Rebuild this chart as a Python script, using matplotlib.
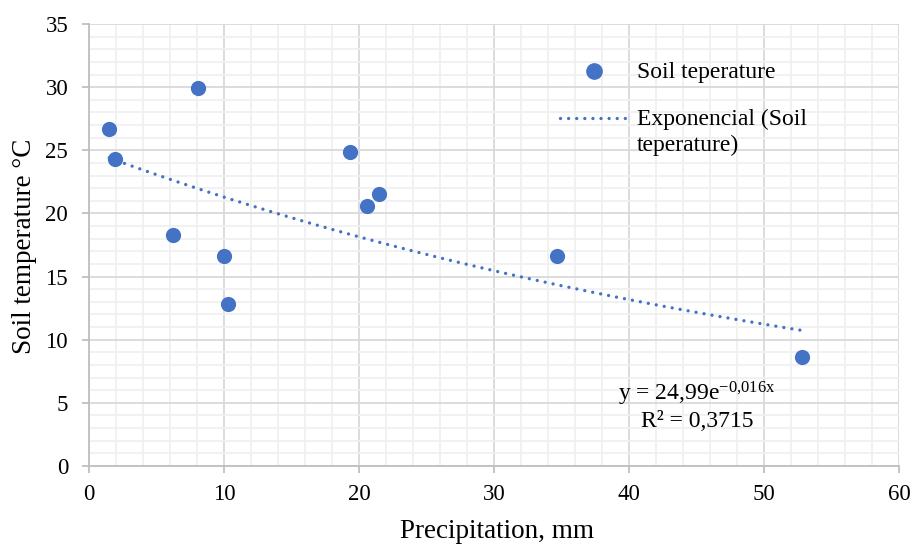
import numpy as np
import matplotlib
matplotlib.use("Agg")
import matplotlib.pyplot as plt
from matplotlib.ticker import MultipleLocator
from matplotlib.lines import Line2D

precip = [1.5, 1.9, 8.1, 6.2, 10.0, 10.3, 19.3, 20.6, 21.5, 34.7, 52.8]
soil_temp = [26.7, 24.3, 29.9, 18.3, 16.6, 12.8, 24.9, 20.6, 21.5, 16.6, 8.6]
trend_a = 24.99
trend_b = -0.016
r2_text = "0,3715"
series_label = "Soil teperature"
trend_label = ["Exponencial (Soil", "teperature)"]

plt.rcParams['font.family'] = ['Liberation Serif', 'DejaVu Serif']
plt.rcParams['mathtext.fontset'] = 'custom'
plt.rcParams['mathtext.rm'] = 'Liberation Serif'
plt.rcParams['mathtext.it'] = 'Liberation Serif'

W, H = 914, 545
fig = plt.figure(figsize=(W/100, H/100), dpi=100)
ax = fig.add_axes([89/W, 1-466/H, (899-89)/W, (466-24)/H])

def fx(px):
    return px / W

def fy(py):
    return 1 - py / H

blue = '#4472C4'
dot_style = dict(lw=2.4, linestyle=(0, (0.01, 2.42)), dash_capstyle='round')
ax.scatter(precip, soil_temp, s=120, color=blue, zorder=3, linewidths=0)
xs = np.linspace(min(precip), max(precip), 200)
ax.plot(xs, trend_a*np.exp(trend_b*xs), color=blue, zorder=2, **dot_style)

ax.set_xlim(0, 60)
ax.set_ylim(0, 35)
ax.xaxis.set_major_locator(MultipleLocator(10))
ax.xaxis.set_minor_locator(MultipleLocator(2))
ax.yaxis.set_major_locator(MultipleLocator(5))
ax.yaxis.set_minor_locator(MultipleLocator(1))
ax.grid(which='major', color='#d9d9d9', lw=1.3, zorder=0)
ax.grid(which='minor', color='#f0f0f0', lw=1.3, zorder=0)
ax.set_axisbelow(True)
for s in ['top', 'right']:
    ax.spines[s].set_visible(False)
for s in ['left', 'bottom']:
    ax.spines[s].set_color('#bfbfbf')
    ax.spines[s].set_linewidth(1.3)
ax.tick_params(which='major', length=5, width=1.3, color='#bfbfbf', labelsize=16.5)
ax.tick_params(axis='y', which='major', pad=10)
ax.tick_params(axis='x', which='major', pad=8)
ax.tick_params(which='minor', length=0)
ax.set_xlabel('Precipitation, mm', fontsize=19.5)
ax.set_ylabel('Soil temperature °C', fontsize=19.5)
ax.xaxis.set_label_coords(0.504, -0.121)
ax.yaxis.set_label_coords(-0.064, 0.497)

# legend (manual, frameless)
fig.add_artist(Line2D([fx(594)], [fy(71)], marker='o', color=blue, markersize=11,
                      linestyle='none', transform=fig.transFigure))
fig.add_artist(Line2D([fx(560), fx(628)], [fy(118), fy(118)], color=blue,
                      transform=fig.transFigure, **dot_style))
fig.text(fx(637), fy(78), series_label, fontsize=17, va='baseline', ha='left')
fig.text(fx(637), fy(125), trend_label[0], fontsize=17, va='baseline', ha='left')
fig.text(fx(637), fy(151), trend_label[1], fontsize=17, va='baseline', ha='left')

fig.text(fx(697), fy(400), r"y = 24,99e$^{-0{,}016x}$", fontsize=17, ha='center', va='baseline')
fig.text(fx(697), fy(427), "R² = " + r2_text, fontsize=17, ha='center', va='baseline')

fig.savefig('out.png', dpi=100)
